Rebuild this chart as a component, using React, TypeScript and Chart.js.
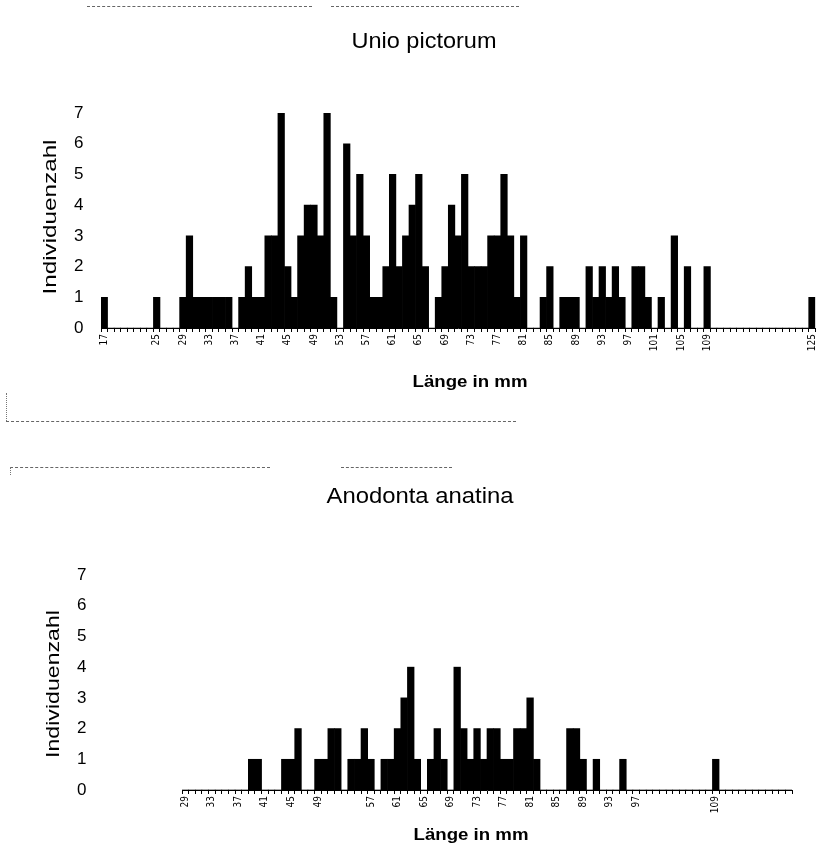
import React, { useEffect, useRef } from "react";
import { Chart, registerables } from "chart.js";

Chart.register(...registerables);

// ---- Data: number of individuals per shell length (mm) ----
const UNIO_FIRST_MM = 17;
// lengths 17 .. 125 mm
const UNIO_COUNTS = [
  1, 0, 0, 0, 0, 0, 0, 0, 1, 0, // 17-26
  0, 0, 1, 3, 1, 1, 1, 1, 1, 1, // 27-36
  0, 1, 2, 1, 1, 3, 3, 7, 2, 1, // 37-46
  3, 4, 4, 3, 7, 1, 0, 6, 3, 5, // 47-56
  3, 1, 1, 2, 5, 2, 3, 4, 5, 2, // 57-66
  0, 1, 2, 4, 3, 5, 2, 2, 2, 3, // 67-76
  3, 5, 3, 1, 3, 0, 0, 1, 2, 0, // 77-86
  1, 1, 1, 0, 2, 1, 2, 1, 2, 1, // 87-96
  0, 2, 2, 1, 0, 1, 0, 3, 0, 2, // 97-106
  0, 0, 2, 0, 0, 0, 0, 0, 0, 0, // 107-116
  0, 0, 0, 0, 0, 0, 0, 0, 1,    // 117-125
];
const UNIO_TICK_LABELS = [17, 25, 29, 33, 37, 41, 45, 49, 53, 57, 61, 65, 69, 73, 77, 81, 85, 89, 93, 97, 101, 105, 109, 125];

const ANODONTA_FIRST_MM = 29;
// lengths 29 .. 120 mm
const ANODONTA_COUNTS = [
  0, 0, 0, 0, 0, 0, 0, 0, 0, 0, // 29-38
  1, 1, 0, 0, 0, 1, 1, 2, 0, 0, // 39-48
  1, 1, 2, 2, 0, 1, 1, 2, 1, 0, // 49-58
  1, 1, 2, 3, 4, 1, 0, 1, 2, 1, // 59-68
  0, 4, 2, 1, 2, 1, 2, 2, 1, 1, // 69-78
  2, 2, 3, 1, 0, 0, 0, 0, 2, 2, // 79-88
  1, 0, 1, 0, 0, 0, 1, 0, 0, 0, // 89-98
  0, 0, 0, 0, 0, 0, 0, 0, 0, 0, // 99-108
  1, 0, 0, 0, 0, 0, 0, 0, 0, 0, // 109-118
  0, 0,                         // 119-120
];
const ANODONTA_TICK_LABELS = [29, 33, 37, 41, 45, 49, 57, 61, 65, 69, 73, 77, 81, 85, 89, 93, 97, 109];

const Y_MIN = 0;
const Y_MAX = 7;

const TITLE_UNIO = "Unio pictorum";
const TITLE_ANODONTA = "Anodonta anatina";
const Y_TITLE = "Individuenzahl";
const X_TITLE = "Länge in mm";

const SANS = '"Liberation Sans", Arial, Helvetica, sans-serif';
const NARROW = '"Liberation Sans Narrow", "DejaVu Sans Condensed", "Liberation Sans", sans-serif';

type Caption = {
  text: string;
  x: number;
  y: number;
  font: string;
  width: number; // target length of the text
  rotate?: number;
};

function captionPlugin(items: Caption[]) {
  return {
    id: "captions",
    afterDraw(chart: any) {
      const ctx: CanvasRenderingContext2D = chart.ctx;
      for (const c of items) {
        ctx.save();
        ctx.font = c.font;
        ctx.fillStyle = "#000";
        ctx.textAlign = "center";
        ctx.textBaseline = "middle";
        const w = ctx.measureText(c.text).width || 1;
        ctx.translate(c.x, c.y);
        if (c.rotate) ctx.rotate(c.rotate);
        ctx.scale(c.width / w, 1);
        ctx.fillText(c.text, 0, 0);
        ctx.restore();
      }
    },
  };
}

type PanelProps = {
  top: number;
  height: number;
  first: number;
  counts: number[];
  tickLabels: number[];
  padLeft: number;
  padRight: number;
  padTop: number;
  yWidth: number;
  xHeight: number;
  captions: Caption[];
};

function Panel(p: PanelProps) {
  const ref = useRef<HTMLCanvasElement>(null);
  useEffect(() => {
    if (!ref.current) return;
    const labels = p.counts.map((_, i) => String(p.first + i));
    const shown = new Set(p.tickLabels.map(String));
    const chart = new Chart(ref.current, {
      type: "bar",
      data: {
        labels,
        datasets: [
          {
            data: p.counts,
            backgroundColor: "#000",
            borderWidth: 0,
            barPercentage: 1,
            categoryPercentage: 1,
          },
        ],
      },
      options: {
        animation: false,
        responsive: false,
        maintainAspectRatio: false,
        layout: { padding: { left: p.padLeft, right: p.padRight, top: p.padTop, bottom: 0 } },
        plugins: {
          legend: { display: false },
          tooltip: { enabled: false },
          title: { display: false },
        },
        scales: {
          x: {
            type: "category",
            offset: true,
            grid: {
              display: true,
              drawOnChartArea: false,
              drawTicks: true,
              tickLength: 4,
              color: "#000",
              lineWidth: 1,
            },
            border: { display: true, color: "#000", width: 1, dash: [2, 2] },
            ticks: {
              autoSkip: false,
              maxRotation: 90,
              minRotation: 90,
              padding: 2,
              color: "#000",
              font: { family: NARROW, size: 10 },
              callback: (_v: any, i: number) => (shown.has(labels[i]) ? labels[i] : ""),
            },
            afterFit: (s: any) => {
              s.height = p.xHeight;
            },
          },
          y: {
            min: Y_MIN,
            max: Y_MAX,
            ticks: {
              stepSize: 1,
              color: "#000",
              padding: 0,
              crossAlign: "far",
              font: { family: SANS, size: 17 },
            },
            grid: { display: false, drawTicks: false },
            border: { display: false },
            afterFit: (s: any) => {
              s.width = p.yWidth;
            },
          },
        },
      },
      plugins: [captionPlugin(p.captions)],
    } as any);
    return () => chart.destroy();
  }, []);
  return (
    <canvas
      ref={ref}
      width={826}
      height={p.height}
      style={{ position: "absolute", left: 0, top: p.top, width: 826, height: p.height }}
    />
  );
}

function Line(props: { x: number; y: number; w: number; h: number; dashed?: boolean }) {
  const { x, y, w, h, dashed } = props;
  const horizontal = w >= h;
  return (
    <div
      style={{
        position: "absolute",
        left: x,
        top: y,
        width: horizontal ? w : 0,
        height: horizontal ? 0 : h,
        borderTop: horizontal ? `1px ${dashed ? "dashed" : "solid"} #666` : undefined,
        borderLeft: horizontal ? undefined : `1px dotted #777`,
      }}
    />
  );
}

export default function App() {
  return (
    <div style={{ position: "absolute", left: 0, top: 0, width: 826, height: 850, background: "#fff", overflow: "hidden" }}>
      <Panel
        top={0}
        height={400}
        first={UNIO_FIRST_MM}
        counts={UNIO_COUNTS}
        tickLabels={UNIO_TICK_LABELS}
        padLeft={74}
        padRight={2}
        padTop={113}
        yWidth={27}
        xHeight={72}
        captions={[
          { text: TITLE_UNIO, x: 424, y: 42, font: `22px ${SANS}`, width: 145 },
          { text: Y_TITLE, x: 51, y: 217, font: `19px ${SANS}`, width: 155, rotate: -Math.PI / 2 },
          { text: X_TITLE, x: 470, y: 382, font: `bold 17px ${SANS}`, width: 115 },
        ]}
      />
      <Panel
        top={400}
        height={450}
        first={ANODONTA_FIRST_MM}
        counts={ANODONTA_COUNTS}
        tickLabels={ANODONTA_TICK_LABELS}
        padLeft={77}
        padRight={34}
        padTop={175}
        yWidth={105}
        xHeight={60}
        captions={[
          { text: TITLE_ANODONTA, x: 420, y: 97, font: `22px ${SANS}`, width: 187 },
          { text: Y_TITLE, x: 54, y: 284, font: `19px ${SANS}`, width: 148, rotate: -Math.PI / 2 },
          { text: X_TITLE, x: 471, y: 435, font: `bold 17px ${SANS}`, width: 115 },
        ]}
      />
      <Line x={87} y={6} w={225} h={0} dashed />
      <Line x={331} y={6} w={188} h={0} dashed />
      <Line x={6} y={421} w={510} h={0} dashed />
      <Line x={6} y={393} w={0} h={28} />
      <Line x={10} y={467} w={260} h={0} dashed />
      <Line x={341} y={467} w={111} h={0} dashed />
      <Line x={10} y={467} w={0} h={8} />
    </div>
  );
}
